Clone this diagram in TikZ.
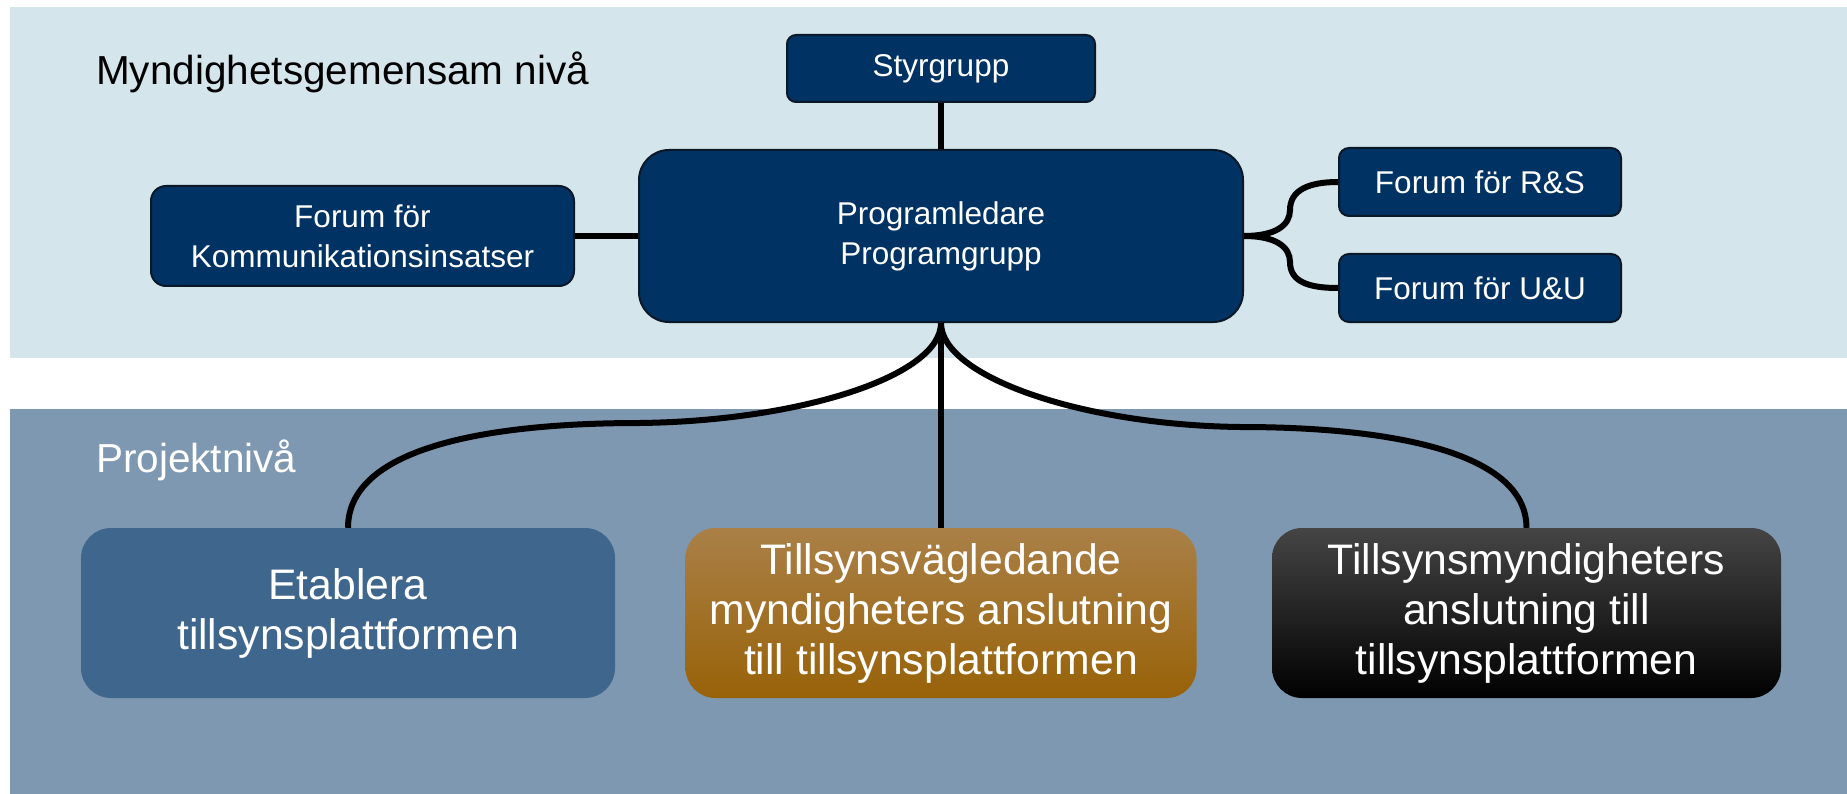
\documentclass[tikz,border=0pt]{standalone}
\usepackage{fontspec}
\setmainfont{Liberation Sans}
\definecolor{bandtop}{RGB}{213,229,236}
\definecolor{bandbot}{RGB}{127,152,177}
\definecolor{navy}{RGB}{0,51,99}
\definecolor{navyedge}{RGB}{10,24,40}
\definecolor{etabfill}{RGB}{63,102,141}
\definecolor{goldtop}{RGB}{170,128,72}
\definecolor{goldbot}{RGB}{152,98,8}
\begin{document}
\begin{tikzpicture}[x=1pt,y=-1pt,
  topbox/.style={draw=navyedge, line width=2pt, fill=navy, text=white, align=center,
    font=\fontsize{31.5}{40}\selectfont, inner sep=0pt},
  botbox/.style={rounded corners=30pt, text=white, align=center,
    font=\fontsize{42.7}{50}\selectfont, inner sep=0pt, minimum height=170pt},
  link/.style={line width=6pt, black},
  bandtitle/.style={anchor=base west, inner sep=0pt, font=\fontsize{40.5}{46}\selectfont}]
\useasboundingbox (0,0) rectangle (1847,794);
% bands
\fill[bandtop] (10,7) rectangle (1847,358);
\fill[bandbot] (10,409) rectangle (1847,794);
\node[bandtitle] (t1) at (96,85) {Myndighetsgemensam nivå};
\node[bandtitle, text=white] (t2) at (96,472) {Projektnivå};
% top level boxes
\node[topbox, rounded corners=9pt, minimum width=308pt, minimum height=67pt] (styr) at (941,68.5) {Styrgrupp};
\node[topbox, rounded corners=30pt, minimum width=604pt, minimum height=172pt] (prog) at (941,236) {Programledare\\Programgrupp};
\node[topbox, rounded corners=15pt, minimum width=423pt, minimum height=100pt] (komm) at (362.5,236) {Forum för\\Kommunikationsinsatser};
\node[topbox, rounded corners=10pt, minimum width=282pt, minimum height=68pt] (rs) at (1480,182) {Forum för R\&S};
\node[topbox, rounded corners=10pt, minimum width=282pt, minimum height=68pt] (uu) at (1480,288) {Forum för U\&U};
% project boxes
\node[botbox, fill=etabfill, minimum width=534pt] (etab) at (348,613) {Etablera\\tillsynsplattformen};
\node[botbox, top color=goldtop, bottom color=goldbot, minimum width=511pt] (tvl) at (941,613) {Tillsynsvägledande\\myndigheters anslutning\\till tillsynsplattformen};
\node[botbox, top color=black!73, middle color=black, bottom color=black, minimum width=509pt] (tsm) at (1526.5,613) {Tillsynsmyndigheters\\anslutning till\\tillsynsplattformen};
% connectors
\draw[link] (styr.south) -- (prog.north);
\draw[link] (komm.east) -- (prog.west);
\draw[link] (prog.east) .. controls +(32,0) and +(0,15) .. (1290,210) .. controls +(0,-20) and +(-29,0) .. (rs.west);
\draw[link] (prog.east) .. controls +(32,0) and +(0,-15) .. (1290,262) .. controls +(0,20) and +(-29,0) .. (uu.west);
\draw[link] (prog.south) -- (tvl.north);
\coordinate (lmid) at (640,423);
\coordinate (rmid) at (1240,427);
\draw[link] (prog.south) .. controls +(0,53) and +(160,-2) .. (lmid) .. controls +(-160,0) and +(0,-78) .. (etab.north);
\draw[link] (prog.south) .. controls +(0,53) and +(-160,-2) .. (rmid) .. controls +(160,0) and +(0,-73) .. (tsm.north);
\end{tikzpicture}
\end{document}
